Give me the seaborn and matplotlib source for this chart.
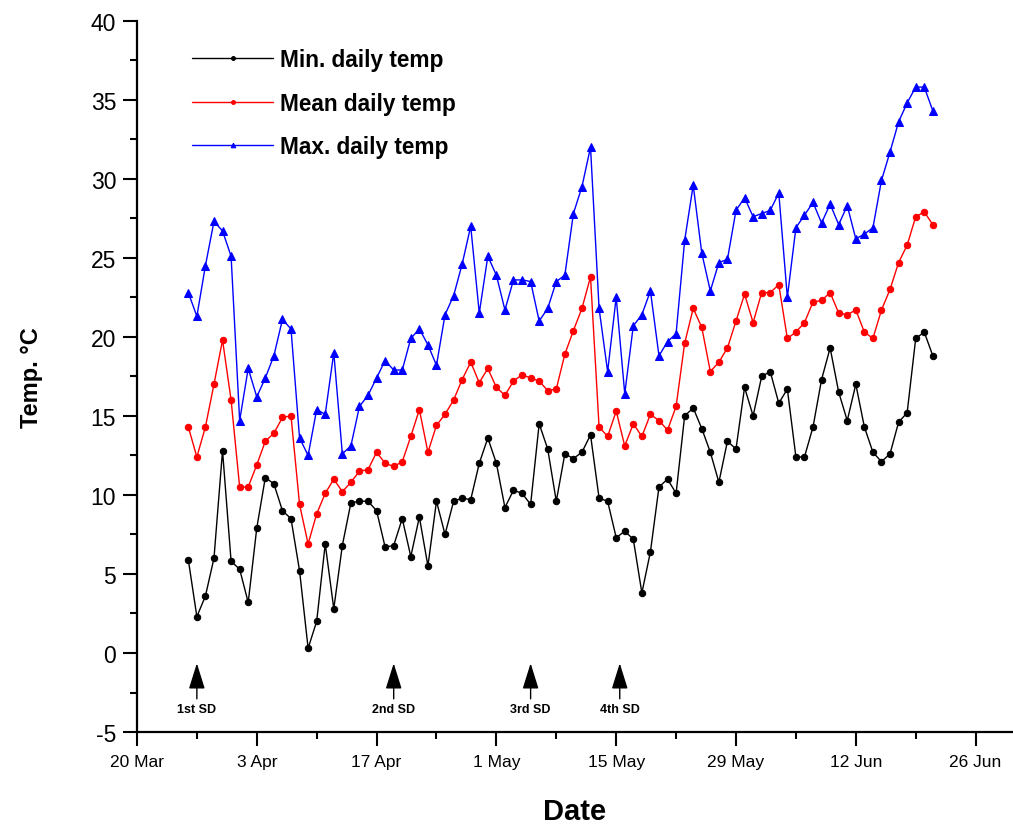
import numpy as np
import pandas as pd
import matplotlib
matplotlib.use("Agg")
import matplotlib.pyplot as plt
import seaborn as sns

# ---------------- data ----------------
start_date = "2016-03-26"
min_temp = [5.9, 2.3, 3.6, 6.0, 12.8, 5.8, 5.3, 3.2, 7.9, 11.1, 10.7, 9.0, 8.5, 5.2, 0.3,
            2.0, 6.9, 2.8, 6.8, 9.5, 9.6, 9.6, 9.0, 6.7, 6.8, 8.5, 6.1, 8.6, 5.5, 9.6,
            7.5, 9.6, 9.8, 9.7, 12.0, 13.6, 12.0, 9.2, 10.3, 10.1, 9.4, 14.5, 12.9, 9.6, 12.6,
            12.3, 12.7, 13.8, 9.8, 9.6, 7.3, 7.7, 7.2, 3.8, 6.4, 10.5, 11.0, 10.1, 15.0, 15.5,
            14.2, 12.7, 10.8, 13.4, 12.9, 16.8, 15.0, 17.5, 17.8, 15.8, 16.7, 12.4, 12.4, 14.3, 17.3,
            19.3, 16.5, 14.7, 17.0, 14.3, 12.7, 12.1, 12.6, 14.6, 15.2, 19.9, 20.3, 18.8]
mean_temp = [14.3, 12.4, 14.3, 17.0, 19.8, 16.0, 10.5, 10.5, 11.9, 13.4, 13.9, 14.9, 15.0, 9.4, 6.9,
             8.8, 10.1, 11.0, 10.2, 10.8, 11.5, 11.6, 12.7, 12.0, 11.8, 12.1, 13.7, 15.4, 12.7, 14.4,
             15.1, 16.0, 17.3, 18.4, 17.1, 18.0, 16.8, 16.3, 17.2, 17.6, 17.4, 17.2, 16.6, 16.7, 18.9,
             20.4, 21.8, 23.8, 14.3, 13.7, 15.3, 13.1, 14.5, 13.7, 15.1, 14.7, 14.1, 15.6, 19.6, 21.8,
             20.6, 17.8, 18.4, 19.3, 21.0, 22.7, 20.9, 22.8, 22.8, 23.3, 19.9, 20.3, 20.9, 22.2, 22.3,
             22.8, 21.5, 21.4, 21.7, 20.3, 19.9, 21.7, 23.0, 24.7, 25.8, 27.6, 27.9, 27.1]
max_temp = [22.8, 21.3, 24.5, 27.3, 26.7, 25.1, 14.7, 18.0, 16.2, 17.4, 18.8, 21.1, 20.5, 13.6, 12.5,
            15.4, 15.1, 19.0, 12.6, 13.1, 15.6, 16.3, 17.4, 18.5, 17.9, 17.9, 19.9, 20.5, 19.5, 18.2,
            21.4, 22.6, 24.6, 27.0, 21.5, 25.1, 23.9, 21.7, 23.6, 23.6, 23.5, 21.0, 21.8, 23.5, 23.9,
            27.8, 29.5, 32.0, 21.8, 17.8, 22.5, 16.4, 20.7, 21.4, 22.9, 18.8, 19.7, 20.2, 26.1, 29.6,
            25.3, 22.9, 24.7, 24.9, 28.0, 28.8, 27.6, 27.8, 28.0, 29.1, 22.5, 26.9, 27.7, 28.5, 27.2,
            28.4, 27.1, 28.3, 26.2, 26.5, 26.9, 29.9, 31.7, 33.6, 34.8, 35.8, 35.8, 34.3]

series_labels = ["Min. daily temp", "Mean daily temp", "Max. daily temp"]
sowing_dates = ["2016-03-27", "2016-04-19", "2016-05-05", "2016-05-15 10:00"]
sowing_labels = ["1st SD", "2nd SD", "3rd SD", "4th SD"]
xtick_dates = ["2016-03-20", "2016-04-03", "2016-04-17", "2016-05-01",
               "2016-05-15", "2016-05-29", "2016-06-12", "2016-06-26"]
xtick_labels = ["20 Mar", "3 Apr", "17 Apr", "1 May", "15 May", "29 May", "12 Jun", "26 Jun"]
ytick_values = [-5, 0, 5, 10, 15, 20, 25, 30, 35, 40]

dates = pd.date_range(start_date, periods=len(min_temp), freq="D")

# ---------------- style ----------------
sns.set_style("white")
plt.rcParams["font.family"] = ["Liberation Sans", "DejaVu Sans"]
plt.rcParams["axes.unicode_minus"] = False
for key in ["text.color", "axes.labelcolor", "xtick.color", "ytick.color"]:
    plt.rcParams[key] = "black"

fig = plt.figure(figsize=(10.13, 8.28), dpi=100)
ax = fig.add_axes([0.1352, 0.1147, 0.8638, 0.8591])

sns.lineplot(x=dates, y=min_temp, ax=ax, color="black", marker="o", markersize=4.6,
             markeredgecolor="black", linewidth=1.0, label=series_labels[0])
sns.lineplot(x=dates, y=mean_temp, ax=ax, color="#FF0000", marker="o", markersize=4.6,
             markeredgecolor="#FF0000", linewidth=1.0, label=series_labels[1])
sns.lineplot(x=dates, y=max_temp, ax=ax, color="#0000FF", marker="^", markersize=5.5,
             markeredgecolor="#0000FF", linewidth=1.0, label=series_labels[2])

# ticks
ax.set_yticks(ytick_values)
ax.set_yticklabels([str(v) for v in ytick_values])
ax.yaxis.set_minor_locator(matplotlib.ticker.MultipleLocator(2.5))
xt = pd.to_datetime(xtick_dates)
ax.set_xticks(xt)
ax.set_xticklabels(xtick_labels)
minor_x = xt[:-1] + pd.Timedelta(days=7)
ax.set_xticks(list(minor_x), minor=True)

# limits (set after ticks so they are not expanded)
ax.set_xlim(pd.Timestamp("2016-03-20"), pd.Timestamp("2016-06-30 06:00"))
ax.set_ylim(-5, 40)

for s in ["top", "right"]:
    ax.spines[s].set_visible(False)
for s in ["left", "bottom"]:
    ax.spines[s].set_linewidth(1.6)
    ax.spines[s].set_color("black")

ax.tick_params(axis="y", which="major", direction="out", length=10, width=1.5,
               labelsize=16.5, pad=5, left=True, colors="black")
ax.tick_params(axis="y", which="minor", direction="out", length=5, width=1.5, left=True,
               colors="black")
ax.tick_params(axis="x", which="major", direction="out", length=10, width=1.5,
               labelsize=12.5, pad=6, bottom=True, colors="black")
ax.tick_params(axis="x", which="minor", direction="out", length=5, width=1.5, bottom=True,
               colors="black")

ax.set_xlabel("Date", fontsize=21, fontweight="bold", labelpad=20, color="black")
ax.set_ylabel("Temp. °C", fontsize=17, fontweight="bold", labelpad=34, color="black")

# sowing date arrows
for d, lab in zip(sowing_dates, sowing_labels):
    dt = pd.Timestamp(d)
    ax.annotate("", xy=(dt, -0.65), xytext=(dt, -2.9),
                arrowprops=dict(arrowstyle="-|>,head_length=0.8,head_width=0.25",
                                color="black", lw=1.0, mutation_scale=20,
                                shrinkA=0, shrinkB=0))
    ax.text(dt, -3.55, lab, ha="center", va="center", fontsize=9, fontweight="bold",
            color="black")

leg = ax.legend(loc="upper left", bbox_to_anchor=(0.0396, 0.99), frameon=False,
                prop={"weight": "bold", "size": 16.3}, handlelength=3.6,
                handletextpad=0.3, labelspacing=0.9, markerscale=0.6)
for t in leg.get_texts():
    t.set_color("black")

fig.savefig("out.png", dpi=100)
